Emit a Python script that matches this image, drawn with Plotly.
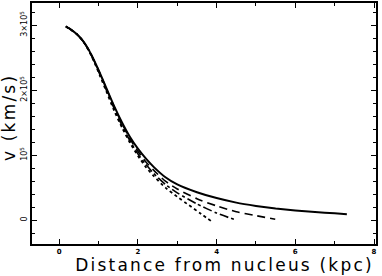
import plotly.graph_objects as go

# Data (v in units of 1e5 km/s, distance in kpc)
x_solid = [0.17, 0.3, 0.45, 0.6, 0.75, 0.9, 1.05, 1.2, 1.4, 1.6, 1.8, 2.0, 2.2, 2.4, 2.7, 3.0, 3.5, 4.0, 4.5, 5.0, 5.5, 6.0, 6.5, 7.0, 7.31]
v_solid = [2.98, 2.93, 2.86, 2.76, 2.62, 2.44, 2.24, 2.03, 1.75, 1.50, 1.28, 1.10, 0.95, 0.82, 0.66, 0.55, 0.43, 0.34, 0.27, 0.22, 0.18, 0.15, 0.125, 0.105, 0.09]

x_dash = [0.17, 0.3, 0.45, 0.6, 0.75, 0.9, 1.05, 1.2, 1.4, 1.6, 1.8, 2.0, 2.2, 2.4, 2.7, 3.0, 3.5, 4.0, 4.5, 5.0, 5.49]
v_dash = [2.98, 2.93, 2.86, 2.76, 2.62, 2.44, 2.24, 2.02, 1.74, 1.48, 1.25, 1.06, 0.90, 0.77, 0.60, 0.48, 0.33, 0.22, 0.13, 0.07, 0.015]

x_dashdot = [0.17, 0.3, 0.45, 0.6, 0.75, 0.9, 1.05, 1.2, 1.4, 1.6, 1.8, 2.0, 2.2, 2.4, 2.7, 3.0, 3.5, 4.0, 4.5]
v_dashdot = [2.98, 2.93, 2.86, 2.76, 2.62, 2.43, 2.22, 2.00, 1.71, 1.45, 1.22, 1.02, 0.86, 0.72, 0.55, 0.42, 0.25, 0.11, 0.0]

x_dot = [0.17, 0.3, 0.45, 0.6, 0.75, 0.9, 1.05, 1.2, 1.4, 1.6, 1.8, 2.0, 2.2, 2.4, 2.7, 3.0, 3.3, 3.6, 3.9]
v_dot = [2.98, 2.93, 2.86, 2.76, 2.61, 2.42, 2.20, 1.98, 1.68, 1.42, 1.19, 0.99, 0.82, 0.68, 0.50, 0.36, 0.23, 0.10, -0.03]

scale = 1e5
y_tickvals = [0, 1e5, 2e5, 3e5]
y_ticktext = ["0", "10<sup>5</sup>", "2×10<sup>5</sup>", "3×10<sup>5</sup>"]
x_tickvals = [0, 2, 4, 6, 8]
x_ticktext = ["0", "2", "4", "6", "8"]

fig = go.Figure()
series = [
    (x_solid, v_solid, "solid", 2),
    (x_dash, v_dash, "8px,5px", 1.6),
    (x_dashdot, v_dashdot, "dashdot", 1.6),
    (x_dot, v_dot, "dot", 1.8),
]
for xs, vs, dash, w in series:
    fig.add_trace(go.Scatter(
        x=xs, y=[v * scale for v in vs], mode="lines",
        line=dict(color="black", width=w, dash=dash, shape="spline", smoothing=0.6),
        showlegend=False, hoverinfo="skip"))

axis_common = dict(
    showgrid=False, zeroline=False, showline=True, linecolor="black", linewidth=1.5,
    mirror="ticks", ticks="inside", tickcolor="black", tickwidth=1.2,
)
fig.update_xaxes(
    range=[-0.69, 8.05], tickvals=x_tickvals,
    ticktext=["<b>%s</b>" % t for t in x_ticktext], ticklen=5,
    tickfont=dict(family="DejaVu Sans", size=7, color="black"),
    minor=dict(dtick=1, tick0=0, ticks="inside", ticklen=3, tickcolor="black", tickwidth=1.2),
    **axis_common)
fig.update_yaxes(
    range=[-0.366e5, 3.34e5], tickvals=y_tickvals, ticktext=y_ticktext, ticklen=5,
    tickangle=-90,
    tickfont=dict(family="DejaVu Sans", size=8, color="black"),
    minor=dict(dtick=0.2e5, tick0=0, ticks="inside", ticklen=3, tickcolor="black", tickwidth=1.2),
    **axis_common)

fig.add_annotation(text="Distance from nucleus (kpc)", xref="paper", yref="paper",
                   x=0.56, y=-33 / 243, xanchor="center", yanchor="bottom", showarrow=False,
                   font=dict(family="DejaVu Sans", size=17, color="black"))
fig.add_annotation(text="v (km/s)", xref="paper", yref="paper",
                   x=-0.066, y=0.527, xanchor="center", yanchor="middle", showarrow=False,
                   textangle=-90,
                   font=dict(family="DejaVu Sans", size=17, color="black"))

fig.update_layout(
    width=382, height=276,
    margin=dict(l=32, r=6, t=1, b=32),
    paper_bgcolor="white", plot_bgcolor="white",
)
fig.write_html(
    "out.html", config={"displayModeBar": False},
    post_script=(
        "document.body.style.margin='0';document.body.style.overflow='hidden';"
        "document.querySelectorAll('.annotation-text').forEach(function(t){t.style.letterSpacing='2.2px';});"
    ))
